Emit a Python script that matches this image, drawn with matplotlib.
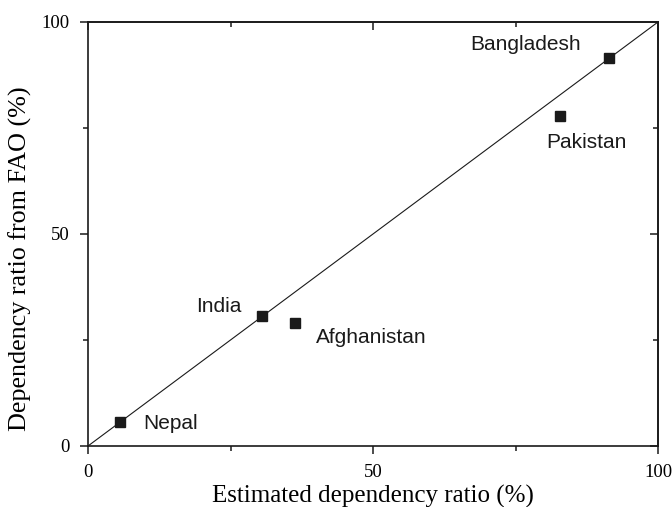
import matplotlib
matplotlib.use("Agg")
import matplotlib.pyplot as plt
from matplotlib.ticker import MultipleLocator, NullFormatter

countries = ["Bangladesh", "Pakistan", "India", "Afghanistan", "Nepal"]
estimated = [91.4, 82.8, 30.5, 36.3, 5.6]
fao = [91.5, 77.8, 30.7, 28.9, 5.7]
label_pos = {
    "Bangladesh": (76.7, 94.6),
    "Pakistan": (87.5, 71.5),
    "India": (23.0, 33.0),
    "Afghanistan": (49.7, 25.5),
    "Nepal": (14.4, 5.2),
}

fig = plt.figure(figsize=(6.72, 5.07), dpi=100)
ax = fig.add_axes([88/672, 61/507, 570/672, 424/507])

ax.plot([0, 100], [0, 100], color="#1a1a1a", lw=0.8)
ax.plot(estimated, fao, ls="none", marker="s", ms=6.5, color="#1a1a1a")
for c in countries:
    x, y = label_pos[c]
    ax.text(x, y, c, ha="center", va="center", fontsize=15,
            family="Liberation Sans", color="#1a1a1a")

ax.set_xlim(0, 100)
ax.set_ylim(0, 100)


def setup(axis):
    axis.set_major_locator(MultipleLocator(50))
    axis.set_minor_locator(MultipleLocator(25))


setup(ax.xaxis)
setup(ax.yaxis)
ax.tick_params(which="major", direction="out", length=6, width=1.1,
               labelsize=13.5, pad=7, color="#1a1a1a")
ax.tick_params(which="minor", direction="out", length=3.8, width=1.1,
               color="#1a1a1a")
for lab in ax.get_xticklabels() + ax.get_yticklabels():
    lab.set_family("Liberation Serif")

top = ax.secondary_xaxis("top")
right = ax.secondary_yaxis("right")
for sec, axis in ((top, top.xaxis), (right, right.yaxis)):
    setup(axis)
    axis.set_major_formatter(NullFormatter())
    sec.tick_params(which="major", direction="in", length=6, width=1.1,
                    color="#1a1a1a")
    sec.tick_params(which="minor", direction="in", length=3.8, width=1.1,
                    color="#1a1a1a")
    for s in sec.spines.values():
        s.set_linewidth(1.2)
        s.set_color("#1a1a1a")

for s in ax.spines.values():
    s.set_linewidth(1.2)
    s.set_color("#1a1a1a")

ax.set_xlabel("Estimated dependency ratio (%)", fontsize=18,
              family="Liberation Serif", labelpad=3)
ax.set_ylabel("Dependency ratio from FAO (%)", fontsize=18.8,
              family="Liberation Serif")
ax.yaxis.set_label_coords(-0.098, 0.441)

fig.savefig("out.png", dpi=100)
